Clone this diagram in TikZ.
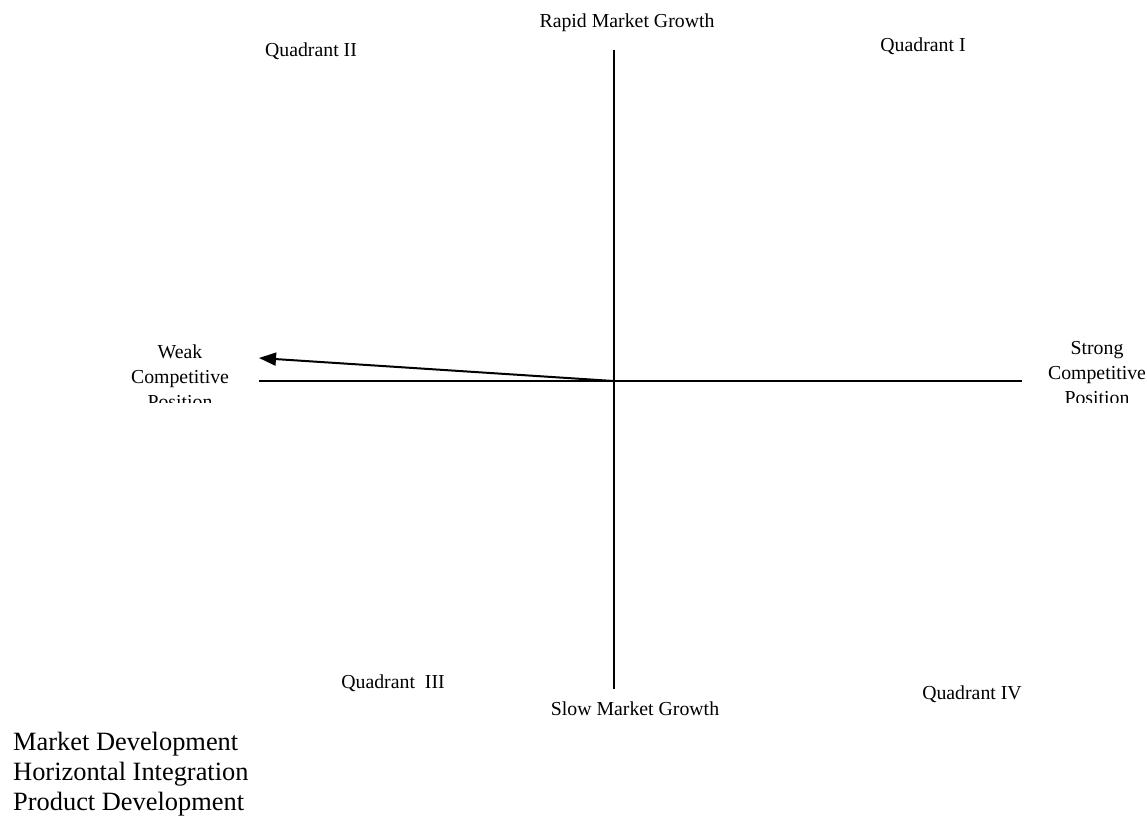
\documentclass[tikz,border=0pt]{standalone}
\usepackage{fontspec}
\setmainfont{Liberation Serif}
\usetikzlibrary{arrows.meta}
\tikzset{
  lbl/.style={inner sep=0pt, anchor=base, font=\fontsize{19.8}{24}\selectfont},
  stack/.style={inner sep=0pt, anchor=north, align=center, font=\fontsize{19.8}{25}\selectfont},
  big/.style={inner sep=0pt, anchor=base west, align=left, font=\fontsize{26.4}{30}\selectfont},
  axis/.style={line width=2pt},
}
\begin{document}
\begin{tikzpicture}[x=1pt,y=-1pt]
\useasboundingbox (0,0) rectangle (1147,821);
\coordinate (top) at (613.5,50);
\coordinate (bot) at (613.5,689);
\coordinate (left) at (259,381);
\coordinate (right) at (1022,381);
\coordinate (origin) at (613.5,381);
\coordinate (tip) at (259,358);
\draw[axis] (top) -- (bot);
\draw[axis] (left) -- (right);
\draw[axis,-{Triangle[length=17pt,width=13pt]}] (origin) -- (tip);
\node[lbl] (rapid) at (627,28) {Rapid Market Growth};
\node[lbl] (q2) at (311,57) {Quadrant II};
\node[lbl] (q1) at (923,52) {Quadrant I};
\node[lbl] (q3) at (393,688) {Quadrant\ \ III};
\node[lbl] (q4) at (972,699) {Quadrant IV};
\node[lbl] (slow) at (635,715) {Slow Market Growth};
\begin{scope}
\clip (0,0) rectangle (1147,402);
\node[stack] (weak) at (180,345) {Weak\\Competitive\\Position};
\node[stack] (strong) at (1097,341) {Strong\\Competitive\\Position};
\end{scope}
\node[big] (list) at (13,810) {Market Development\\Horizontal Integration\\Product Development};
\end{tikzpicture}
\end{document}
